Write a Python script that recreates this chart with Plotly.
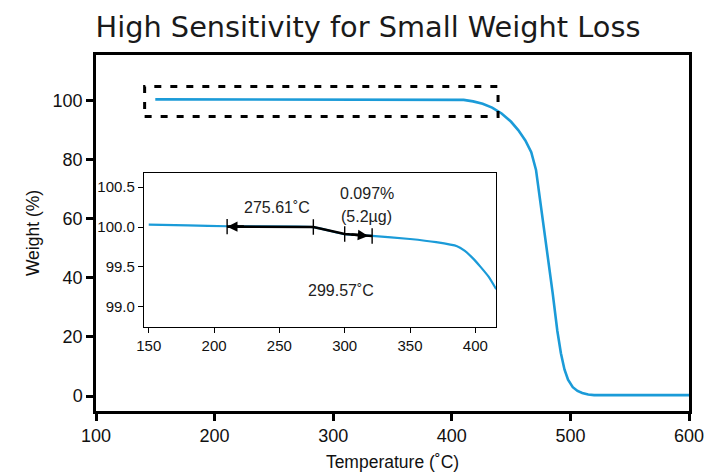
import plotly.graph_objects as go

# ---- main TGA curve ----
main_temp = [150, 400, 410, 418, 426, 434, 442, 450, 456, 462, 467, 471, 475, 480, 485, 489, 492, 495, 498, 502, 506, 510, 515, 520, 600]
main_weight = [100.4, 100.4, 100.2, 99.7, 98.9, 97.6, 95.6, 92.8, 90.0, 86.5, 82.5, 76.5, 65, 50, 35, 22, 14.5, 9, 5.5, 3, 1.7, 1.0, 0.5, 0.3, 0.3]

# ---- inset (zoomed) curve ----
inset_temp = [150, 180, 210, 276, 300, 321, 350, 370, 386, 392, 398, 404, 410, 416]
inset_weight = [100.03, 100.02, 100.01, 100.0, 99.91, 99.89, 99.85, 99.81, 99.76, 99.70, 99.61, 99.50, 99.38, 99.22]

# ---- step annotation (black) ----
step_temp = [210, 276, 300, 321]
step_weight = [100.005, 100.0, 99.913, 99.888]

# zoom box region in main chart
box_x = [141, 439]
box_y = [94.6, 104.7]

main_xticks = [100, 200, 300, 400, 500, 600]
main_yticks = [0, 20, 40, 60, 80, 100]
inset_xticks = [150, 200, 250, 300, 350, 400]
inset_yticks = [99.0, 99.5, 100.0, 100.5]
inset_ytext = ["99.0", "99.5", "100.0", "100.5"]

BLUE = "#1b9bd8"
FONT = "Arial"

fig = go.Figure()
fig.add_trace(go.Scatter(x=main_temp, y=main_weight, mode="lines",
                         line=dict(color=BLUE, width=2.6), xaxis="x", yaxis="y",
                         showlegend=False, hoverinfo="skip"))
fig.add_trace(go.Scatter(x=inset_temp, y=inset_weight, mode="lines",
                         line=dict(color=BLUE, width=2.2, shape="spline", smoothing=0.5),
                         xaxis="x2", yaxis="y2",
                         showlegend=False, hoverinfo="skip"))
fig.add_trace(go.Scatter(x=step_temp, y=step_weight, mode="lines+markers",
                         line=dict(color="black", width=2.6),
                         marker=dict(symbol="line-ns", size=11, line=dict(color="black", width=1.4)),
                         xaxis="x2", yaxis="y2", showlegend=False, hoverinfo="skip"))

fig.add_shape(type="rect", xref="x", yref="y", x0=box_x[0], x1=box_x[1], y0=box_y[0], y1=box_y[1],
              line=dict(color="black", width=3, dash="7px,9px"), fillcolor="rgba(0,0,0,0)")

annotations = [
    dict(x=step_temp[0], y=step_weight[0], ax=step_temp[0] + 14, ay=step_weight[0],
         xref="x2", yref="y2", axref="x2", ayref="y2", text="", showarrow=True,
         arrowhead=2, arrowsize=0.8, arrowwidth=2.6, arrowcolor="black"),
    dict(x=318, y=99.889, ax=304, ay=99.909,
         xref="x2", yref="y2", axref="x2", ayref="y2", text="", showarrow=True,
         arrowhead=2, arrowsize=0.8, arrowwidth=2.6, arrowcolor="black"),
    dict(x=248, y=100.24, xref="x2", yref="y2", text="275.61˚C", showarrow=False,
         font=dict(family=FONT, size=16, color="#222")),
    dict(x=317, y=100.42, xref="x2", yref="y2", text="0.097%", showarrow=False,
         font=dict(family=FONT, size=16, color="#222")),
    dict(x=317, y=100.13, xref="x2", yref="y2", text="(5.2µg)", showarrow=False,
         font=dict(family=FONT, size=16, color="#222")),
    dict(x=297, y=99.21, xref="x2", yref="y2", text="299.57˚C", showarrow=False,
         font=dict(family=FONT, size=16, color="#222")),
]

# page body has an 8px margin: figure is sized/offset to compensate
fig.update_layout(
    width=716, height=467,
    margin=dict(l=88, r=35, t=47, b=64, autoexpand=False),
    paper_bgcolor="white", plot_bgcolor="white",
    title=dict(text="High Sensitivity for Small Weight Loss", x=(368 - 8) / 716, xref="container",
               xanchor="center", y=1 - 19 / 467, yanchor="middle",
               font=dict(family="DejaVu Sans", size=28.8, color="#1a1a1a")),
    annotations=annotations,
    xaxis=dict(range=[100, 600], tickvals=main_xticks, showgrid=False, zeroline=False,
               showline=True, linecolor="black", linewidth=2.5, mirror=True, automargin=False,
               ticks="outside", ticklen=7, tickwidth=2.5, tickcolor="black",
               tickfont=dict(family=FONT, size=18, color="#111"),
               title=dict(text="Temperature (˚C)", font=dict(family=FONT, size=17.5, color="#111"), standoff=11)),
    yaxis=dict(range=[-5.07, 115.4], tickvals=main_yticks, showgrid=False, zeroline=False,
               showline=True, linecolor="black", linewidth=2.5, mirror=True, automargin=False,
               ticks="outside", ticklen=7, tickwidth=2.5, tickcolor="black",
               tickfont=dict(family=FONT, size=18, color="#111"),
               title=dict(text="Weight (%)", font=dict(family=FONT, size=17.5, color="#111"), standoff=9)),
    xaxis2=dict(domain=[0.081, 0.6745], anchor="y2", range=[146.4, 415.8], tickvals=inset_xticks,
                showgrid=False, zeroline=False, showline=True, linecolor="black", linewidth=1.3,
                mirror=True, ticks="outside", ticklen=5, tickwidth=1.2, tickcolor="black",
                automargin=False, tickfont=dict(family=FONT, size=15, color="#111")),
    yaxis2=dict(domain=[0.2368, 0.669], anchor="x2", range=[98.75, 100.68], tickvals=inset_yticks,
                ticktext=inset_ytext, showgrid=False, zeroline=False, showline=True,
                linecolor="black", linewidth=1.3, mirror=True, ticks="outside", ticklen=5,
                automargin=False, tickwidth=1.2, tickcolor="black", tickfont=dict(family=FONT, size=15, color="#111")),
)

fig.write_html("out.html")
